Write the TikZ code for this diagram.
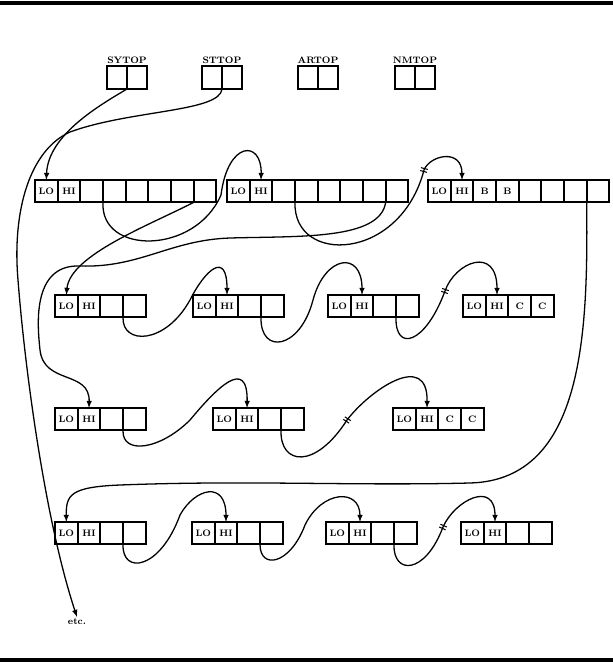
\documentclass[tikz,border=0pt]{standalone}
\usetikzlibrary{positioning}

\tikzset{
  cell/.style={rectangle, draw, line width=1.5pt, minimum width=0.68cm, minimum height=0.67cm, inner sep=0pt, outer sep=0pt, font=\fontsize{8}{9}\selectfont\bfseries},
  hcell/.style={cell, minimum width=0.6cm, minimum height=0.69cm},
  hlabel/.style={inner sep=0pt, font=\fontsize{8}{9}\selectfont\bfseries},
  link/.style={->, line width=1.1pt},
  rule/.style={line width=3pt},
  cut/.pic={\draw [line width=0.9pt] (-3.5,-1.5) -- (3.5,-1.5) (-3.5,1.5) -- (3.5,1.5);}
}

% one storage block: name, top left corner, number of cells, text of cells 3 and 4
\newcommand{\memblock}[4]{%
  \node (#1c1) [cell, anchor=north west] at (#2) {LO};
  \node (#1c2) [cell, right=0pt of #1c1] {HI};
  \node (#1c3) [cell, right=0pt of #1c2] {#4};
  \node (#1c4) [cell, right=0pt of #1c3] {#4};
  \ifnum#3>4
    \foreach \i [remember=\i as \j (initially 4)] in {5,...,#3}
      \node (#1c\i) [cell, right=0pt of #1c\j] {};
  \fi
}

\begin{document}
\begin{tikzpicture}[x=0.03cm, y=-0.03cm, >=latex]
    \useasboundingbox (0,0) rectangle (613,663);
    \draw [rule] (0,3) -- (613,3);
    \draw [rule] (0,660) -- (613,660);

    % top pointers
    \node (sy1) [hcell, anchor=north west] at (107,66) {};
    \node (sy2) [hcell, right=0pt of sy1] {};
    \node (st1) [hcell, anchor=north west] at (202,66) {};
    \node (st2) [hcell, right=0pt of st1] {};
    \node (ar1) [hcell, anchor=north west] at (298,66) {};
    \node (ar2) [hcell, right=0pt of ar1] {};
    \node (nm1) [hcell, anchor=north west] at (395,66) {};
    \node (nm2) [hcell, right=0pt of nm1] {};
    \node (sylbl) [hlabel, above=2pt of sy1.north east] {SYTOP};
    \node (stlbl) [hlabel, above=2pt of st1.north east] {STTOP};
    \node (arlbl) [hlabel, above=2pt of ar1.north east] {ARTOP};
    \node (nmlbl) [hlabel, above=2pt of nm1.north east] {NMTOP};

    % blocks
    \memblock{A1}{35,180}{8}{}
    \memblock{A2}{227,180}{8}{}
    \memblock{A3}{428,180}{8}{B}
    \memblock{B1}{55,295}{4}{}
    \memblock{B2}{193,295}{4}{}
    \memblock{B3}{328,295}{4}{}
    \memblock{B4}{463,295}{4}{C}
    \memblock{C1}{55,408}{4}{}
    \memblock{C2}{213,408}{4}{}
    \memblock{C3}{393,408}{4}{C}
    \memblock{D1}{55,522}{4}{}
    \memblock{D2}{192,522}{4}{}
    \memblock{D3}{326,522}{4}{}
    \memblock{D4}{461,522}{4}{}

    \node (etc) [hlabel, inner sep=1.5pt] at (77,622) {etc.};

    \coordinate (brk1) at (424,170);
    \coordinate (brk2) at (445,291);
    \coordinate (brk3) at (347,420);
    \coordinate (brk4) at (443,527);

    \draw [link] (sy1.south east) .. controls (100,105) and (48,135) .. (A1c1.north);
    \draw [link] (st1.south east) .. controls (220,112) and (130,110) .. (70,132) .. controls (30,150) and (12,210) .. (18,280) .. controls (25,370) and (45,520) .. (etc.north);

    \draw [link] (A1c4.south west) .. controls (100,255) and (195,255) .. (221,195) .. controls (228,140) and (262,140) .. (A2c2.north);
    \draw [link] (A2c4.south west) .. controls (293,265) and (400,262) .. (brk1) .. controls (430,155) and (462,148) .. (A3c2.north);
    \draw [link] (A1c8.south west) .. controls (150,225) and (70,255) .. (B1c1.north);
    \draw [link] (A2c8.south west) .. controls (380,240) and (300,236) .. (230,238) .. controls (170,240) and (140,268) .. (80,266) .. controls (30,264) and (38,330) .. (40,350) .. controls (44,385) and (90,370) .. (C1c2.north);
    \draw [link] (A3c8.south west) .. controls (588,330) and (585,480) .. (470,483) .. controls (350,486) and (250,480) .. (120,485) .. controls (70,487) and (66,495) .. (D1c1.north);

    \draw [link] (B1c4.south west) .. controls (122,345) and (165,345) .. (190,300) .. controls (205,270) and (227,250) .. (B2c2.north);
    \draw [link] (B2c4.south west) .. controls (260,355) and (300,350) .. (313,300) .. controls (325,255) and (362,250) .. (B3c2.north);
    \draw [link] (B3c4.south west) .. controls (395,352) and (425,345) .. (brk2) .. controls (455,262) and (497,245) .. (B4c2.north);

    \draw [link] (C1c4.south west) .. controls (122,455) and (160,450) .. (190,420) .. controls (215,390) and (248,355) .. (C2c2.north);
    \draw [link] (C2c4.south west) .. controls (280,465) and (315,470) .. (brk3) .. controls (370,390) and (428,350) .. (C3c2.north);

    \draw [link] (D1c4.south west) .. controls (122,575) and (160,570) .. (180,515) .. controls (195,488) and (226,480) .. (D2c2.north);
    \draw [link] (D2c4.south west) .. controls (260,570) and (290,565) .. (305,525) .. controls (322,490) and (360,488) .. (D3c2.north);
    \draw [link] (D3c4.south west) .. controls (393,575) and (425,575) .. (brk4) .. controls (455,500) and (495,480) .. (D4c2.north);

    \pic [rotate=-15] at (brk1) {cut};
    \pic [rotate=-18] at (brk2) {cut};
    \pic [rotate=-33] at (brk3) {cut};
    \pic [rotate=-24] at (brk4) {cut};
\end{tikzpicture}
\end{document}
